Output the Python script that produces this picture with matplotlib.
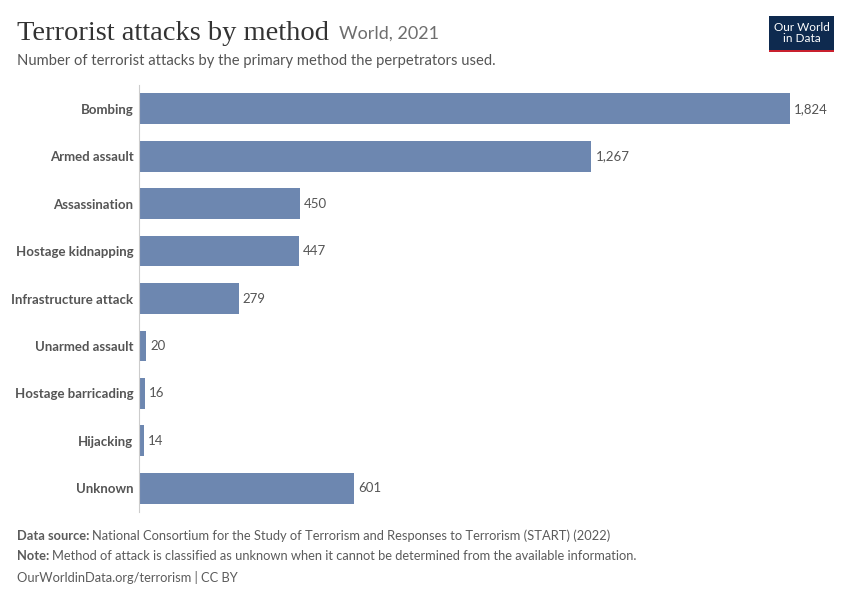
import matplotlib.pyplot as plt
from matplotlib.patches import Rectangle

methods = ["Bombing", "Armed assault", "Assassination", "Hostage kidnapping",
           "Infrastructure attack", "Unarmed assault", "Hostage barricading",
           "Hijacking", "Unknown"]
attacks = [1824, 1267, 450, 447, 279, 20, 16, 14, 601]

bar_color = "#6d87b0"

fig = plt.figure(figsize=(8.5, 6), dpi=100)
ax = fig.add_axes([139 / 850, 1 - 512 / 600, (790 - 139) / 850, 427 / 600])

ypos = range(len(methods))
ax.barh(ypos, attacks, height=0.65, color=bar_color)
ax.set_xlim(0, 1824)
ax.set_ylim(len(methods) - 0.5, -0.5)
ax.set_yticks(list(ypos))
ax.set_yticklabels(methods, fontfamily="Lato", fontweight="bold", fontsize=9.5, color="#555555")
ax.tick_params(axis="y", length=0, pad=4)
ax.set_xticks([])
for s in ["top", "right", "bottom"]:
    ax.spines[s].set_visible(False)
ax.spines["left"].set_color("#cccccc")
ax.spines["left"].set_linewidth(0.8)

for y, v in zip(ypos, attacks):
    ax.text(v + 12, y, f"{v:,}", va="center", ha="left", fontfamily="Lato",
            fontsize=9.5, color="#555555", clip_on=False)

# header
fig.text(17 / 850, 1 - 33 / 600, "Terrorist attacks by method", fontfamily="Liberation Serif",
         fontsize=20.5, color="#333333", va="center", ha="left")
fig.text(339 / 850, 1 - 34 / 600, "World, 2021", fontfamily="Lato", fontsize=13,
         color="#6e6e6e", va="center", ha="left")
fig.text(17 / 850, 1 - 61 / 600, "Number of terrorist attacks by the primary method the perpetrators used.",
         fontfamily="Lato", fontsize=10.65, color="#555555", va="center", ha="left")

# logo
fig.patches.append(Rectangle((769 / 850, 1 - 52 / 600), 65 / 850, 36 / 600,
                             transform=fig.transFigure, facecolor="#0e2a4f", edgecolor="none"))
fig.patches.append(Rectangle((769 / 850, 1 - 52 / 600), 65 / 850, 2.5 / 600,
                             transform=fig.transFigure, facecolor="#c9202e", edgecolor="none"))
fig.text(801.5 / 850, 1 - 33 / 600, "Our World\nin Data", fontfamily="Lato", fontsize=8.5,
         color="white", va="center", ha="center", linespacing=1.0)

# footer
foot_kw = dict(fontfamily="Lato", fontsize=9.3, color="#5b5b5b", va="center", ha="left")
renderer = fig.canvas.get_renderer()


def bold_then_plain(y_px, bold, plain):
    t = fig.text(17 / 850, 1 - y_px / 600, bold, fontweight="bold", **foot_kw)
    bb = t.get_window_extent(renderer)
    fig.text((bb.x1 + 3) / 850, 1 - y_px / 600, plain, **foot_kw)


bold_then_plain(536, "Data source:",
                "National Consortium for the Study of Terrorism and Responses to Terrorism (START) (2022)")
bold_then_plain(556, "Note:",
                "Method of attack is classified as unknown when it cannot be determined from the available information.")
fig.text(17 / 850, 1 - 577 / 600, "OurWorldinData.org/terrorism | CC BY", **foot_kw)

fig.savefig("out.png", dpi=100, facecolor="white")
